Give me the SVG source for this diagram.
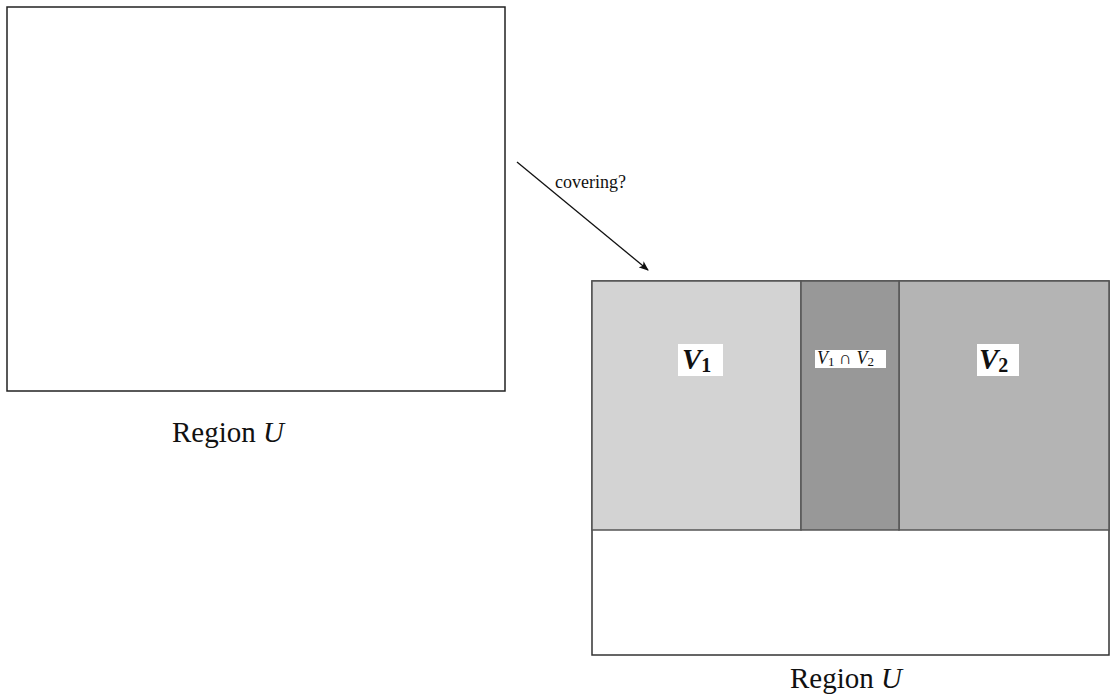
<svg xmlns="http://www.w3.org/2000/svg" width="1118" height="697" viewBox="0 0 1118 697">
<style>
.t{font-family:"Liberation Serif","DejaVu Serif",serif;fill:#111}
.m{font-family:"Liberation Serif","DejaVu Serif",serif;font-style:italic;fill:#111}
.b{stroke:#555;stroke-width:1.5}
</style>
<defs>
<marker id="ah" markerWidth="10" markerHeight="8" refX="9" refY="4" orient="auto" markerUnits="userSpaceOnUse">
<path d="M0,0 L10,4 L0,8 L2.5,4 Z" fill="#111"/>
</marker>
</defs>
<rect width="1118" height="697" fill="#fff"/>
<g id="regionU1">
<rect x="7" y="7" width="498" height="384" fill="#fff" stroke="#222" stroke-width="1.5"/>
<text class="t" x="172" y="442" font-size="29">Region <tspan class="m">U</tspan></text>
</g>
<g id="regionU2">
<rect x="592" y="281" width="517" height="374" fill="#fff" stroke="#333" stroke-width="1.5"/>
<text class="t" x="790" y="688" font-size="29">Region <tspan class="m">U</tspan></text>
</g>
<g id="V1">
<rect x="592" y="281" width="209" height="249" fill="#d3d3d3" class="b"/>
<rect x="678" y="344" width="45" height="32" fill="#fff"/>
<text class="m" x="682" y="369" font-size="29" font-weight="bold">V<tspan font-style="normal" font-size="20" dy="3">1</tspan></text>
</g>
<g id="V2">
<rect x="899" y="281" width="210" height="249" fill="#b4b4b4" class="b"/>
<rect x="977" y="344" width="42" height="32" fill="#fff"/>
<text class="m" x="979" y="369" font-size="29" font-weight="bold">V<tspan font-style="normal" font-size="20" dy="3">2</tspan></text>
</g>
<g id="V1capV2">
<rect x="801" y="281" width="98" height="249" fill="#989898" class="b"/>
<rect x="815" y="350" width="71" height="18" fill="#fff"/>
<text class="m" x="817" y="364" font-size="18">V<tspan font-style="normal" font-size="13" dy="2">1</tspan><tspan font-style="normal" font-size="18" dy="-2"> ∩ </tspan>V<tspan font-style="normal" font-size="13" dy="2">2</tspan></text>
</g>
<g id="connectors">
<line x1="517" y1="162" x2="648" y2="270" stroke="#111" stroke-width="1.3" marker-end="url(#ah)"/>
<text class="t" x="555" y="188" font-size="18">covering?</text>
</g>
</svg>
